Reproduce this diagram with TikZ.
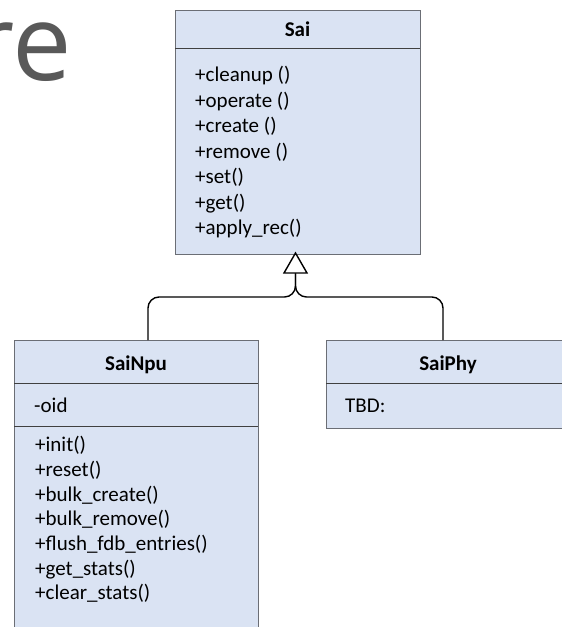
\documentclass[tikz,border=0pt]{standalone}
\usepackage{fontspec}
\setmainfont{Carlito}
\newfontfamily\titlefont{Open Sans}
\usetikzlibrary{arrows.meta}
\definecolor{boxfill}{HTML}{DAE3F3}
\definecolor{boxline}{HTML}{6B6E75}
\definecolor{titlegray}{HTML}{595959}
\tikzset{
  classbox/.style={draw=boxline, line width=1.3pt, fill=boxfill, anchor=north west, inner sep=0pt},
  divider/.style={draw=black!75, line width=1pt},
  classname/.style={font=\fontsize{21}{24}\selectfont\bfseries, anchor=base},
  member/.style={font=\fontsize{21}{24}\selectfont, anchor=base west, inner sep=0pt},
  inherit/.style={draw=black, line width=1.4pt, rounded corners=11pt},
}
\begin{document}
\begin{tikzpicture}[x=1pt,y=-1pt]
\useasboundingbox (0,0) rectangle (562,627);
\clip (0,0) rectangle (562,627);

% slide title fragment
\node[font=\titlefont\fontsize{106}{110}\selectfont, text=titlegray, anchor=base east, inner sep=0pt] (title) at (72,80) {re};

% base class
\node[classbox, minimum width=245pt, minimum height=244pt] (sai) at (175,9.5) {};
\coordinate (saiL) at (175,48);
\coordinate (saiR) at (420,48);
\draw[divider] (saiL) -- (saiR);
\node[classname] (sainame) at (297.5,36) {Sai};
\node[member] (m1) at (195,81.5) {+cleanup ()};
\node[member] (m2) at (195,107) {+operate ()};
\node[member] (m3) at (195,132.5) {+create ()};
\node[member] (m4) at (195,158) {+remove ()};
\node[member] (m5) at (195,183.5) {+set()};
\node[member] (m6) at (195,209) {+get()};
\node[member] (m7) at (195,234.5) {+apply\_rec()};

% derived class SaiNpu
\node[classbox, minimum width=244pt, minimum height=320pt] (npu) at (14,340) {};
\coordinate (npuA) at (14,383);
\coordinate (npuB) at (258,383);
\coordinate (npuC) at (14,426);
\coordinate (npuD) at (258,426);
\draw[divider] (npuA) -- (npuB);
\draw[divider] (npuC) -- (npuD);
\node[classname] (npuname) at (136,370) {SaiNpu};
\node[member] (a1) at (34,412) {-oid};
\node[member] (n1) at (35,451.7) {+init()};
\node[member] (n2) at (35,476.4) {+reset()};
\node[member] (n3) at (35,501.1) {+bulk\_create()};
\node[member] (n4) at (35,525.8) {+bulk\_remove()};
\node[member] (n5) at (35,550.5) {+flush\_fdb\_entries()};
\node[member] (n6) at (35,575.2) {+get\_stats()};
\node[member] (n7) at (35,599.9) {+clear\_stats()};

% derived class SaiPhy
\node[classbox, minimum width=244pt, minimum height=88pt] (phy) at (326,340) {};
\coordinate (phyA) at (326,383);
\coordinate (phyB) at (570,383);
\draw[divider] (phyA) -- (phyB);
\node[classname] (phyname) at (448,370) {SaiPhy};
\node[member] (t1) at (345,412) {TBD:};

% generalisation connectors
\coordinate (tip) at (295.5,253);
\coordinate (base) at (295.5,273);
\coordinate (npuTop) at (148,340);
\coordinate (phyTop) at (443,340);
\draw[inherit] (npuTop) -- (148,297) -- (295.5,297) -- (base);
\draw[inherit] (phyTop) -- (443,297) -- (295.5,297) -- (base);
\draw[draw=black, line width=1.4pt, fill=white, line join=miter] (tip) -- (307,273) -- (284,273) -- cycle;
\end{tikzpicture}
\end{document}
